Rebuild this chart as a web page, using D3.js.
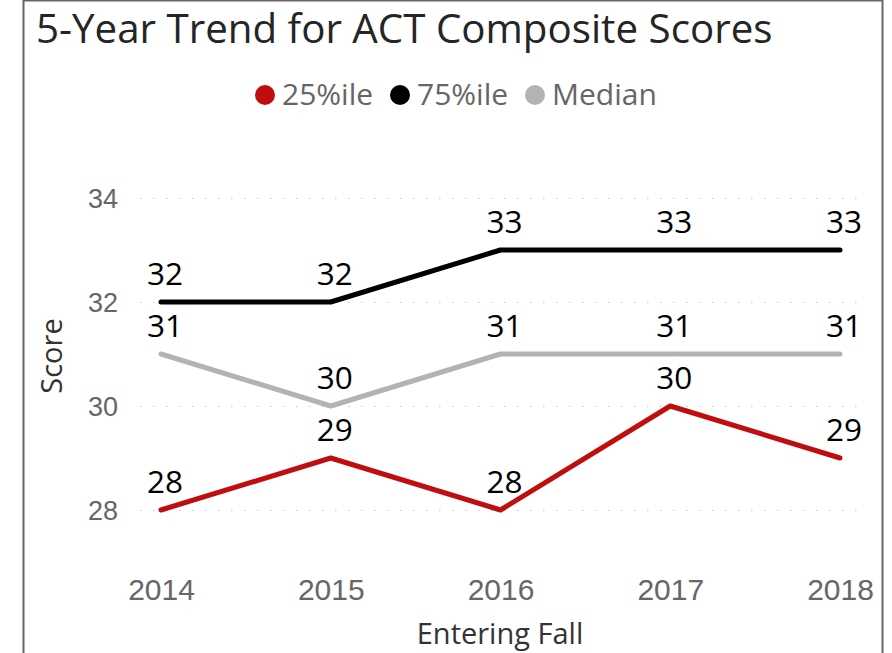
<!DOCTYPE html>
<html>
<head>
<meta charset="utf-8">
<script src="https://cdn.jsdelivr.net/npm/d3@7"></script>
<style>
  body { margin: 0; background: #fff; }
  svg { font-family: "Open Sans", "Noto Sans", sans-serif; }
  .grid line { stroke: #c4c4c4; stroke-dasharray: 1.5 11.5; }
  .grid path { display: none; }
  .axis path, .axis line { display: none; }
  .axis text { fill: #666; }
</style>
</head>
<body>
<div id="chart"></div>
<script>
var w = 892, h = 653;
var margin = {top: 198, right: 52, bottom: 143, left: 161};

var years = ["2014", "2015", "2016", "2017", "2018"];
var p25 = [28, 29, 28, 30, 29];
var p75 = [32, 32, 33, 33, 33];
var median = [31, 30, 31, 31, 31];
var yTicks = [28, 30, 32, 34];

var series = [
  {name: "25%ile", values: p25, color: "#c00d0d"},
  {name: "75%ile", values: p75, color: "#000000"},
  {name: "Median", values: median, color: "#b3b3b3"}
];

var svg = d3.select("#chart")
  .append("svg")
  .attr("width", w)
  .attr("height", h);

// frame
svg.append("path")
  .attr("d", "M23.5," + h + "V0.5H882.5V" + h)
  .attr("fill", "none")
  .attr("stroke", "#6e6262")
  .attr("stroke-width", 2);

svg.append("text")
  .attr("x", 36)
  .attr("y", 43)
  .attr("font-size", 40.3)
  .attr("fill", "#252525")
  .text("5-Year Trend for ACT Composite Scores");

var xScale = d3.scalePoint()
  .domain(years)
  .range([margin.left, w - margin.right]);

var yScale = d3.scaleLinear()
  .domain([28, 34])
  .range([h - margin.bottom, margin.top]);

/*Grid*/
svg.append("g")
  .attr("class", "grid")
  .attr("transform", "translate(140,0)")
  .call(d3.axisLeft(yScale).tickValues(yTicks).tickSize(-722).tickFormat(""));

/*Axes*/
var yAxis = svg.append("g")
  .attr("class", "axis")
  .attr("transform", "translate(118,0)")
  .call(d3.axisLeft(yScale).tickValues(yTicks).tickFormat(d3.format("d")).tickSize(0).tickPadding(0));
yAxis.selectAll("text").attr("font-size", 27).attr("dy", "0.36em");

var xAxis = svg.append("g")
  .attr("class", "axis")
  .attr("transform", "translate(0,579)")
  .call(d3.axisBottom(xScale).tickSize(0).tickPadding(0));
xAxis.selectAll("text").attr("font-size", 30).attr("dy", "0.71em");

svg.append("text")
  .attr("x", 500)
  .attr("y", 644)
  .attr("text-anchor", "middle")
  .attr("font-size", 29)
  .attr("fill", "#333")
  .text("Entering Fall");

svg.append("text")
  .attr("transform", "translate(62,356) rotate(-90)")
  .attr("text-anchor", "middle")
  .attr("font-size", 29)
  .attr("fill", "#333")
  .text("Score");

/*Lines*/
var line = d3.line()
  .x(function(d, i) { return xScale(years[i]); })
  .y(function(d) { return yScale(d); });

series.forEach(function(s) {
  svg.append("path")
    .datum(s.values)
    .attr("fill", "none")
    .attr("stroke", s.color)
    .attr("stroke-width", 5)
    .attr("stroke-linecap", "round")
    .attr("stroke-linejoin", "round")
    .attr("d", line);

  svg.append("g")
    .selectAll("text")
    .data(s.values)
    .enter()
    .append("text")
    .attr("x", function(d, i) { return xScale(years[i]) + 4; })
    .attr("y", function(d) { return yScale(d) - 17; })
    .attr("text-anchor", "middle")
    .attr("font-size", 31.5)
    .attr("fill", "#000")
    .text(function(d) { return d; });
});

/*Legend*/
var legendX = [265, 400, 535];
var legend = svg.append("g");
series.forEach(function(s, i) {
  legend.append("circle")
    .attr("cx", legendX[i])
    .attr("cy", 95)
    .attr("r", 10)
    .attr("fill", s.color);
  legend.append("text")
    .attr("x", legendX[i] + 17)
    .attr("y", 105)
    .attr("font-size", 30)
    .attr("fill", "#666")
    .text(s.name);
});
</script>
</body>
</html>
